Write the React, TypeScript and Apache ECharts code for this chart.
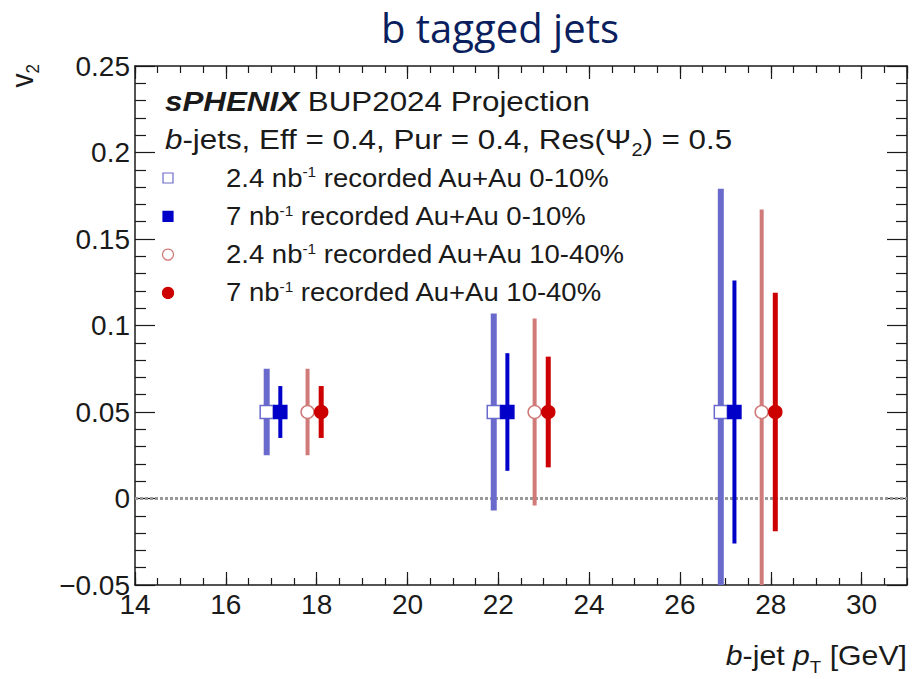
import React, { useEffect, useRef } from 'react';
import * as echarts from 'echarts';

// ---- data ----
const seriesNames = [
  '2.4 nb-1 recorded Au+Au 0-10%',
  '7 nb-1 recorded Au+Au 0-10%',
  '2.4 nb-1 recorded Au+Au 10-40%',
  '7 nb-1 recorded Au+Au 10-40%',
];
const legendTexts = [
  '2.4 nb{sup|-1} recorded Au+Au 0-10%',
  '7 nb{sup|-1} recorded Au+Au 0-10%',
  '2.4 nb{sup|-1} recorded Au+Au 10-40%',
  '7 nb{sup|-1} recorded Au+Au 10-40%',
];
// jet pT positions (GeV) of each data set (shifted for visibility)
const ptOpenSquare = [16.9, 21.9, 26.9];
const ptFullSquare = [17.2, 22.2, 27.2];
const ptOpenCircle = [17.8, 22.8, 27.8];
const ptFullCircle = [18.1, 23.1, 28.1];
// projected v2 values
const v2OpenSquare = [0.05, 0.05, 0.05];
const v2FullSquare = [0.05, 0.05, 0.05];
const v2OpenCircle = [0.05, 0.05, 0.05];
const v2FullCircle = [0.05, 0.05, 0.05];
// statistical uncertainties
const errOpenSquare = [0.025, 0.057, 0.129];
const errFullSquare = [0.015, 0.034, 0.076];
const errOpenCircle = [0.025, 0.054, 0.117];
const errFullCircle = [0.015, 0.032, 0.069];

const X_MIN = 14;
const X_MAX = 31;
const Y_MIN = -0.05;
const Y_MAX = 0.25;

const FONT = "'Liberation Sans', Arial, Helvetica, sans-serif";
const INK = '#1a1a1a';
const SX = 1.1;

const sets = [
  { name: seriesNames[0], pt: ptOpenSquare, v: v2OpenSquare, e: errOpenSquare, barColor: '#6a6acc', barWidth: 6, symbol: 'rect', size: 13, fill: '#ffffff', border: '#6a6acc' },
  { name: seriesNames[1], pt: ptFullSquare, v: v2FullSquare, e: errFullSquare, barColor: '#0000c8', barWidth: 4, symbol: 'rect', size: 13, fill: '#0000c8', border: '#0000c8' },
  { name: seriesNames[2], pt: ptOpenCircle, v: v2OpenCircle, e: errOpenCircle, barColor: '#d07a7a', barWidth: 4, symbol: 'circle', size: 13, fill: '#ffffff', border: '#d07a7a' },
  { name: seriesNames[3], pt: ptFullCircle, v: v2FullCircle, e: errFullCircle, barColor: '#cc0000', barWidth: 5, symbol: 'circle', size: 13, fill: '#cc0000', border: '#cc0000' },
];

function fmt(v: number) {
  const r = parseFloat(v.toFixed(3));
  if (r < 0) return '\u2212' + String(Math.abs(r));
  return String(r);
}

export default function App() {
  const ref = useRef<HTMLDivElement>(null);

  useEffect(() => {
    document.body.style.margin = '0';
    if (!ref.current) return;
    const chart = echarts.init(ref.current, null, { renderer: 'svg' });

    const frameLine = { show: true, onZero: false, lineStyle: { color: INK, width: 1.5 } };
    const gridRect = { left: 135, right: 5, top: 66, bottom: 94, containLabel: false };

    const errorSeries = sets.map((s, k) => ({
      type: 'custom',
      name: 'err' + k,
      xAxisIndex: 0,
      yAxisIndex: 0,
      z: 2,
      clip: true,
      data: s.pt.map((x, i) => [x, s.v[i], s.e[i]]),
      encode: { x: 0, y: 1 },
      renderItem: (params: any, api: any) => {
        const x = api.value(0);
        const y = api.value(1);
        const e = api.value(2);
        const lo = Math.max(Y_MIN, y - e);
        const hi = Math.min(Y_MAX, y + e);
        const p1 = api.coord([x, lo]);
        const p2 = api.coord([x, hi]);
        return {
          type: 'line',
          shape: { x1: p1[0], y1: p1[1], x2: p2[0], y2: p2[1] },
          style: { stroke: s.barColor, lineWidth: s.barWidth },
        };
      },
      ...(k === 0
        ? {
            markLine: {
              silent: true,
              z: 1,
              symbol: ['none', 'none'],
              label: { show: false },
              lineStyle: { color: '#999999', type: [3, 2], width: 3 },
              data: [{ yAxis: 0 }],
            },
          }
        : {}),
    }));

    const markerSeries = sets.map((s) => ({
      type: 'scatter',
      name: s.name,
      xAxisIndex: 0,
      yAxisIndex: 0,
      z: 3,
      symbol: s.symbol,
      symbolSize: s.size,
      itemStyle: { color: s.fill, borderColor: s.border, borderWidth: 1.5, opacity: 1 },
      data: s.pt.map((x, i) => [x, s.v[i]]),
    }));

    const legendRows = sets.map((s, k) => {
      const cy = 178 + k * 38.3;
      const icon =
        s.symbol === 'rect'
          ? { type: 'rect', shape: { x: 163, y: cy - 5, width: 10, height: 10 }, style: { fill: s.fill, stroke: s.border, lineWidth: 1.2 } }
          : { type: 'circle', shape: { cx: 168, cy, r: 5.5 }, style: { fill: s.fill, stroke: s.border, lineWidth: 1.2 } };
      return [
        icon,
        {
          type: 'text',
          x: 226,
          y: cy,
          scaleX: SX,
          style: {
            text: legendTexts[k],
            fontSize: 25,
            fontFamily: FONT,
            fill: INK,
            verticalAlign: 'middle',
            rich: { sup: { fontSize: 14, fontFamily: FONT, fill: INK, verticalAlign: 'top' } },
          },
        },
      ];
    }).flat();

    const xMajor = (position: string, labels: boolean) => ({
      gridIndex: 0, type: 'value', min: X_MIN, max: X_MAX, interval: 2, position,
      axisLine: frameLine,
      axisTick: { show: true, inside: true, length: 13, lineStyle: { color: INK, width: 1.2 } },
      minorTick: { show: false },
      splitLine: { show: false },
      axisLabel: labels
        ? { show: true, fontSize: 28, fontFamily: FONT, color: INK, margin: 5, showMaxLabel: false, formatter: fmt }
        : { show: false },
    });
    const xMinor = (position: string) => ({
      gridIndex: 1, type: 'value', min: X_MIN, max: X_MAX, interval: 0.5, position,
      axisLine: { show: false, onZero: false },
      axisTick: { show: true, inside: true, length: 7, lineStyle: { color: INK, width: 1.2 } },
      splitLine: { show: false },
      axisLabel: { show: false },
    });
    const yMain = (position: string, labels: boolean) => ({
      gridIndex: 0, type: 'value', min: Y_MIN, max: Y_MAX, interval: 0.05, position,
      axisLine: frameLine,
      axisTick: { show: true, inside: true, length: 20, lineStyle: { color: INK, width: 1.2 } },
      minorTick: { show: true, splitNumber: 5, length: 11, lineStyle: { color: INK, width: 1.2 } },
      splitLine: { show: false },
      minorSplitLine: { show: false },
      axisLabel: labels
        ? { show: true, fontSize: 28, fontFamily: FONT, color: INK, margin: 5, formatter: fmt }
        : { show: false },
    });

    const option: any = {
      animation: false,
      backgroundColor: '#ffffff',
      title: {
        text: 'b tagged jets',
        left: 376,
        top: 2,
        textStyle: { fontFamily: "'Open Sans', 'Noto Sans', sans-serif", fontSize: 40, fontWeight: 'normal', color: '#0b1f5e' },
      },
      grid: [gridRect, { ...gridRect }],
      xAxis: [xMajor('bottom', true), xMajor('top', false), xMinor('bottom'), xMinor('top')],
      yAxis: [
        yMain('left', true),
        yMain('right', false),
        { gridIndex: 1, type: 'value', min: Y_MIN, max: Y_MAX, show: false, axisLine: { onZero: false } },
      ],
      series: [...errorSeries, ...markerSeries],
      graphic: [
        {
          type: 'text',
          x: 165,
          y: 101,
          scaleX: SX,
          style: {
            text: '{bi|sPHENIX} BUP2024 Projection',
            fontSize: 28.5,
            fontFamily: FONT,
            fill: INK,
            verticalAlign: 'middle',
            rich: { bi: { fontSize: 28.5, fontFamily: FONT, fontWeight: 'bold', fontStyle: 'italic', fill: INK } },
          },
        },
        {
          type: 'text',
          x: 165,
          y: 139,
          scaleX: SX,
          style: {
            text: '{i|b}-jets, Eff = 0.4, Pur = 0.4, Res(\u03A8{sub|2}) = 0.5',
            fontSize: 28.5,
            fontFamily: FONT,
            fill: INK,
            verticalAlign: 'middle',
            rich: {
              i: { fontSize: 28.5, fontFamily: FONT, fontStyle: 'italic', fill: INK },
              sub: { fontSize: 18, fontFamily: FONT, fill: INK, verticalAlign: 'bottom', padding: [0, 0, -5, 0] },
            },
          },
        },
        ...legendRows,
        {
          type: 'text',
          x: 907,
          y: 655,
          scaleX: SX,
          style: {
            text: '{i|b}-jet {i|p}{sub|T} [GeV]',
            fontSize: 27.5,
            fontFamily: FONT,
            fill: INK,
            align: 'right',
            verticalAlign: 'middle',
            rich: {
              i: { fontSize: 27.5, fontFamily: FONT, fontStyle: 'italic', fill: INK },
              sub: { fontSize: 17, fontFamily: FONT, fill: INK, verticalAlign: 'bottom', padding: [0, 0, -7, 0] },
            },
          },
        },
        {
          type: 'text',
          x: 22,
          y: 64,
          rotation: Math.PI / 2,
          scaleY: SX,
          style: {
            text: 'v{sub|2}',
            fontSize: 28,
            fontFamily: FONT,
            fill: INK,
            align: 'right',
            verticalAlign: 'middle',
            rich: { sub: { fontSize: 17, fontFamily: FONT, fill: INK, verticalAlign: 'bottom', padding: [0, 0, -4, 0] } },
          },
        },
      ],
    };

    chart.setOption(option);
    return () => chart.dispose();
  }, []);

  return <div ref={ref} style={{ width: 912, height: 679 }} />;
}
